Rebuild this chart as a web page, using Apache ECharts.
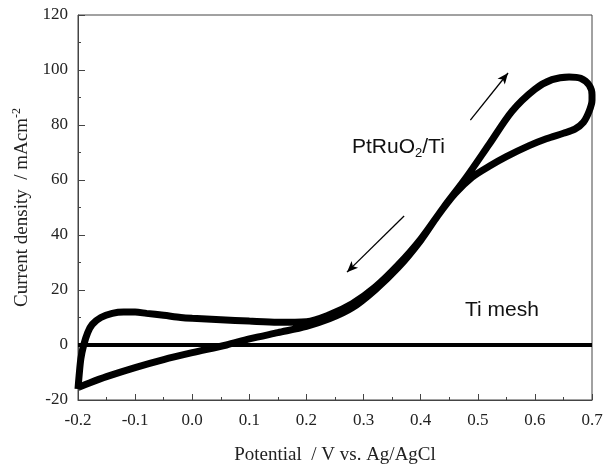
<!DOCTYPE html>
<html>
<head>
<meta charset="utf-8">
<script src="https://cdn.jsdelivr.net/npm/echarts@6/dist/echarts.min.js"></script>
<style>
  html, body { margin: 0; padding: 0; background: #fff; }
  #chart { width: 607px; height: 467px; }
</style>
</head>
<body>
<div id="chart"></div>
<script>
// anodic (forward) scan of PtRuO2/Ti
const forwardV = [-0.2, -0.198, -0.195, -0.19, -0.183, -0.175, -0.16, -0.14, -0.12, -0.1, -0.08, -0.05, -0.02, 0.0, 0.05, 0.1, 0.15, 0.2, 0.24, 0.28, 0.32, 0.36, 0.4, 0.44, 0.48, 0.52, 0.56, 0.6, 0.63, 0.66, 0.68, 0.695, 0.7]
const forwardI = [-16, -11, -5, 0, 4.5, 7.5, 10, 11.5, 12, 12, 11.5, 10.8, 10, 9.7, 9.2, 8.7, 8.3, 8.5, 11, 15, 21, 29, 38.5, 50, 61, 73, 85, 93, 96.5, 97.5, 97, 94.5, 91]
// cathodic (reverse) scan
const reverseV = [0.7, 0.695, 0.685, 0.67, 0.65, 0.62, 0.59, 0.55, 0.52, 0.49, 0.46, 0.43, 0.4, 0.36, 0.32, 0.28, 0.24, 0.2, 0.15, 0.1, 0.06, 0.0, -0.05, -0.1, -0.15, -0.18, -0.2]
const reverseI = [89, 85, 81, 78.5, 77, 75, 72.5, 68.5, 65, 61, 55, 47, 38, 28, 20, 13.5, 9.5, 6.8, 4.5, 2.2, 0, -2.8, -5.3, -8.2, -11.5, -13.8, -15.5]
// bare Ti mesh
const tiV = [-0.2, 0.7]
const tiI = [0, 0]
// scan direction arrows [startV, startI, endV, endI]
const arrowUp = [0.487, 81.8, 0.553, 98.9]
const arrowDown = [0.371, 46.9, 0.271, 26.5]

const cvData = forwardV.map((v, i) => [v, forwardI[i]])
  .concat(reverseV.map((v, i) => [v, reverseI[i]]))
const tiData = tiV.map((v, i) => [v, tiI[i]])

const serif = 'Liberation Serif'
const sans = 'Liberation Sans'
const axisColor = '#444'

const chart = echarts.init(document.getElementById('chart'))
chart.setOption({
  animation: false,
  grid: {
    left: 78, right: 15, top: 15, bottom: 67,
    outerBoundsMode: 'none', containLabel: false,
    show: true, borderColor: axisColor, borderWidth: 1,
  },
  xAxis: {
    type: 'value',
    min: -0.2, max: 0.7, interval: 0.1,
    name: 'Potential  / V vs. Ag/AgCl',
    nameLocation: 'middle',
    nameGap: 46,
    nameTextStyle: { fontFamily: serif, fontSize: 19, color: '#222' },
    axisLine: { onZero: false, lineStyle: { color: axisColor, width: 1 } },
    axisTick: { inside: true, length: 6, lineStyle: { color: axisColor } },
    minorTick: { show: true, splitNumber: 2, length: 3, lineStyle: { color: axisColor } },
    splitLine: { show: false },
    axisLabel: { fontFamily: serif, fontSize: 17, color: '#222', margin: 12, formatter: v => v.toFixed(1) },
  },
  yAxis: {
    type: 'value',
    min: -20, max: 120, interval: 20,
    name: 'Current density  / mAcm{sup|-2}',
    nameLocation: 'middle',
    nameGap: 45,
    nameTextStyle: {
      fontFamily: serif, fontSize: 19, color: '#222',
      rich: { sup: { fontFamily: serif, fontSize: 12, color: '#222', verticalAlign: 'top', padding: [0, 0, 10, 0] } },
    },
    axisLine: { onZero: false, lineStyle: { color: axisColor, width: 1 } },
    axisTick: { inside: true, length: 7, lineStyle: { color: axisColor } },
    minorTick: { show: true, splitNumber: 2, length: 3, lineStyle: { color: axisColor } },
    splitLine: { show: false },
    axisLabel: { fontFamily: serif, fontSize: 17, color: '#222', margin: 10 },
  },
  series: [
    {
      name: 'Ti mesh',
      type: 'line',
      data: tiData,
      showSymbol: false,
      lineStyle: { color: '#000', width: 4 },
    },
    {
      name: 'PtRuO2/Ti',
      type: 'line',
      data: cvData,
      showSymbol: false,
      smooth: 0.3,
      lineStyle: { color: '#000', width: 7 },
      markLine: {
        silent: true,
        symbol: ['none', 'arrow'],
        symbolSize: [7, 11],
        lineStyle: { color: '#000', width: 1.3, type: 'solid' },
        label: { show: false },
        data: [
          [{ coord: [arrowUp[0], arrowUp[1]] }, { coord: [arrowUp[2], arrowUp[3]] }],
          [{ coord: [arrowDown[0], arrowDown[1]] }, { coord: [arrowDown[2], arrowDown[3]] }],
        ],
      },
    },
  ],
  graphic: [
    {
      type: 'text', left: 352, top: 137,
      style: {
        text: 'PtRuO{sub|2}/Ti',
        font: '21px ' + sans, fill: '#111',
        rich: { sub: { font: '13px ' + sans, fill: '#111', padding: [12, 0, 0, 0] } },
      },
    },
    {
      type: 'text', left: 465, top: 300,
      style: { text: 'Ti mesh', font: '21px ' + sans, fill: '#111' },
    },
  ],
})
</script>
</body>
</html>
